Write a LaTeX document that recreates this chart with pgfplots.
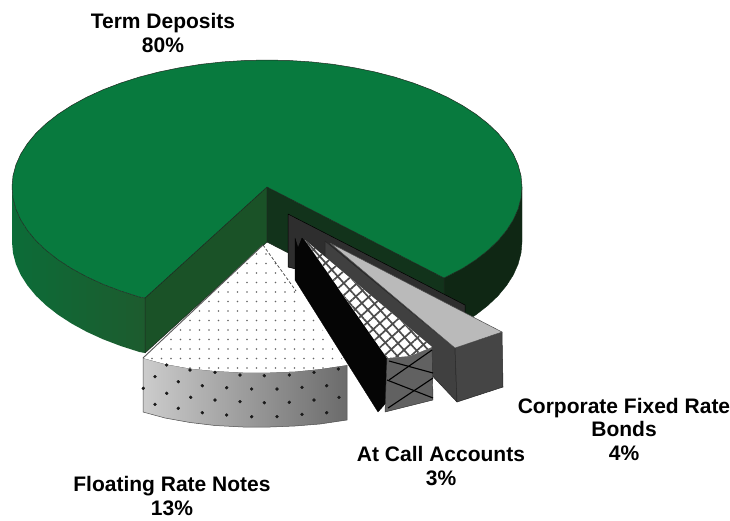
\documentclass[border=0pt]{standalone}
\usepackage{fontspec}
\setmainfont{Liberation Sans}
\usepackage{pgfplots}
\pgfplotsset{compat=1.18}
\usetikzlibrary{patterns.meta}

\definecolor{greenTop}{HTML}{087A3E}
\definecolor{greenSideL}{HTML}{0C6C38}
\definecolor{greenSideR}{HTML}{1D5B2E}
\definecolor{greenCutL}{HTML}{1A5227}
\definecolor{greenCutR}{HTML}{12331B}
\definecolor{greenDark}{HTML}{0F2714}
\definecolor{edgeDark}{HTML}{1E2A20}

\begin{document}
\begin{tikzpicture}
\useasboundingbox (0,0) rectangle (730pt,520pt);
\begin{axis}[
  at={(0,0)}, anchor=south west,
  scale only axis, width=730pt, height=520pt,
  xmin=0, xmax=730, ymin=0, ymax=520, y dir=reverse,
  hide axis, clip=false,
  every axis plot/.append style={line join=round},
]

% Term Deposits: rim, left part
\addplot[draw=none, left color=greenSideL, right color=greenSideR] coordinates {
 (12,187)(13,198.1)(15.9,209.1)(20.7,219.9)(27.4,230.4)(35.9,240.7)(46.2,250.5)(58.1,259.8)(71.7,268.6)(86.7,276.8)(103.1,284.3)(120.7,291)(139.5,297)(145,298)
 (145,353)(139.5,352)(120.7,346)(103.1,339.3)(86.7,331.8)(71.7,323.6)(58.1,314.8)(46.2,305.5)(35.9,295.7)(27.4,285.4)(20.7,274.9)(15.9,264.1)(13,253.1)(12,242)
} -- cycle;
% Term Deposits: rim, right part
\addplot[fill=greenDark, draw=greenDark, line width=0.4pt] coordinates {
 (444,278)(462.3,268.6)(475.9,259.8)(487.8,250.5)(498.1,240.7)(506.6,230.4)(513.3,219.9)(518.1,209.1)(521,198.1)(522,187)
 (522,242)(521,253.1)(518.1,264.1)(513.3,274.9)(506.6,285.4)(498.1,295.7)(487.8,305.5)(475.9,314.8)(462.3,323.6)(444,333)
} -- cycle;
% Term Deposits: the two cut faces
\addplot[fill=greenCutL, draw=edgeDark, line width=0.5pt] coordinates {(267,187)(145,298)(145,353)(267,242)} -- cycle;
\addplot[fill=greenCutR, draw=edgeDark, line width=0.5pt] coordinates {(267,187)(444,278)(444,333)(267,242)} -- cycle;
% Term Deposits: top
\addplot[fill=greenTop, draw=edgeDark, line width=0.5pt] coordinates {
 (267,187)(444,278)(462.3,268.6)(475.9,259.8)(487.8,250.5)(498.1,240.7)(506.6,230.4)(513.3,219.9)(518.1,209.1)(521,198.1)(522,187)
 (521,175.9)(518.1,164.9)(513.3,154.1)(506.6,143.6)(498.1,133.3)(487.8,123.5)(475.9,114.2)(462.3,105.4)(447.3,97.2)(430.9,89.7)(413.3,83)(394.5,77)(374.8,71.9)(354.2,67.7)(333,64.3)(311.3,61.9)(289.2,60.5)(267,60)
 (244.8,60.5)(222.7,61.9)(201,64.3)(179.8,67.7)(159.2,71.9)(139.5,77)(120.7,83)(103.1,89.7)(86.7,97.2)(71.7,105.4)(58.1,114.2)(46.2,123.5)(35.9,133.3)(27.4,143.6)(20.7,154.1)(15.9,164.9)(13,175.9)(12,187)
 (13,198.1)(15.9,209.1)(20.7,219.9)(27.4,230.4)(35.9,240.7)(46.2,250.5)(58.1,259.8)(71.7,268.6)(86.7,276.8)(103.1,284.3)(120.7,291)(139.5,297)(145,298)
} -- cycle;

% Dark inner wall behind the small slices
\addplot[fill=black!82, draw=black, line width=0.5pt] coordinates {(288,214)(465,305)(465,320)(440,335)(300,270)(288,267)} -- cycle;

% Corporate Fixed Rate Bonds
\addplot[fill=black!75, draw=black!85, line width=0.5pt] coordinates {(325,241)(455,348)(457,402)(325,262)} -- cycle;
\addplot[fill=black!73, draw=black!85, line width=0.5pt] coordinates {(455,348)(502,332)(503,387)(457,402)} -- cycle;
\addplot[fill=black!27, draw=black!70, line width=0.5pt] coordinates {(330,243)(502,332)(455,348)} -- cycle;

% Floating Rate Notes: rim
\addplot[draw=black!70, line width=0.5pt, left color=black!20, right color=black!58] coordinates {
 (143,358)(165,364)(190,368.5)(215,371)(243,372.5)(270,372.5)(295,371.5)(320,369)(347,365)
 (347,420)(320,424)(295,426)(270,427)(243,427)(215,425.5)(190,422.5)(165,418)(143,412)
} -- cycle;
\addplot[only marks, mark=*, mark size=1.5pt, mark options={fill=black!90, draw=black!90}] coordinates {
 (166.7,365)(190,370)(215,372.3)(240,375)(264.3,375.7)(289.3,375)(314,372.3)(338.3,369)
 (155,376.7)(178.3,381.7)(202.3,385.7)(226.7,387.7)(251.7,389)(277,389)(302,387.3)(326.7,385.7)
 (143.3,388.3)(166.7,393.3)(190.7,397.3)(215,400)(240,401.7)(264.3,402.7)(289.3,402.3)(314,400)(339,397.3)
 (155,404.3)(178.3,408.3)(202.3,412.7)(226.7,415)(251.7,416.7)(277,416.7)(302,414.3)(326.7,412.7)
};
% Floating Rate Notes: top
\addplot[fill=white, draw=none] coordinates {
 (263,245)(143,358)(165,364)(190,368.5)(215,371)(243,372.5)(270,372.5)(295,371.5)(320,369)(347,365)
} -- cycle;
\addplot[draw=none, pattern={Dots[radius=0.8pt, distance=9.5pt]}, pattern color=black!60] coordinates {
 (263,245)(143,358)(165,364)(190,368.5)(215,371)(243,372.5)(270,372.5)(295,371.5)(320,369)(347,365)
} -- cycle;
\addplot[black!65, line width=0.9pt] coordinates {(143,358)(263,245)};
\addplot[black!75, line width=0.7pt, densely dashed] coordinates {(263,245)(296,291)};

% At Call Accounts: black cut face
\addplot[fill=black!98, draw=black, line width=0.3pt] coordinates {
 (295,238)(298,248)(302,238)(306,243)(387,358)(386,403)(378,412)(295,280)
} -- cycle;
% At Call Accounts: rim with its coarse cross-hatch
\addplot[fill=black!62, draw=black!80, line width=0.4pt] coordinates {(387,358)(432,347)(433,400)(385,412)} -- cycle;
\addplot[black, line width=1.1pt] coordinates {(389,361)(433,373)};
\addplot[black, line width=1.1pt] coordinates {(432,350)(389,380)};
\addplot[black, line width=1.1pt] coordinates {(387,380)(433,398)};
\addplot[black, line width=1.1pt] coordinates {(433,378)(388,408)};
% At Call Accounts: top with fine cross-hatch
\addplot[fill=white, draw=none] coordinates {(305,240)(432,347)(410,356)(387,358)} -- cycle;
\addplot[draw=none, pattern={Lines[angle=42, distance=9pt, line width=1.7pt]}, pattern color=black!70] coordinates {(305,240)(432,347)(410,356)(387,358)} -- cycle;
\addplot[draw=none, pattern={Lines[angle=-48, distance=9pt, line width=1.7pt]}, pattern color=black!70] coordinates {(305,240)(432,347)(410,356)(387,358)} -- cycle;

% Labels
\node[align=center, font=\bfseries\fontsize{21}{23.5}\selectfont] at (axis cs:163,33) {Term Deposits\\80\%};
\node[align=center, font=\bfseries\fontsize{21}{23.5}\selectfont] at (axis cs:172,496) {Floating Rate Notes\\13\%};
\node[align=center, font=\bfseries\fontsize{21}{23.5}\selectfont] at (axis cs:441,466) {At Call Accounts\\3\%};
\node[align=center, font=\bfseries\fontsize{21}{23.5}\selectfont] at (axis cs:624,429) {Corporate Fixed Rate\\Bonds\\4\%};
\end{axis}
\end{tikzpicture}
\end{document}
